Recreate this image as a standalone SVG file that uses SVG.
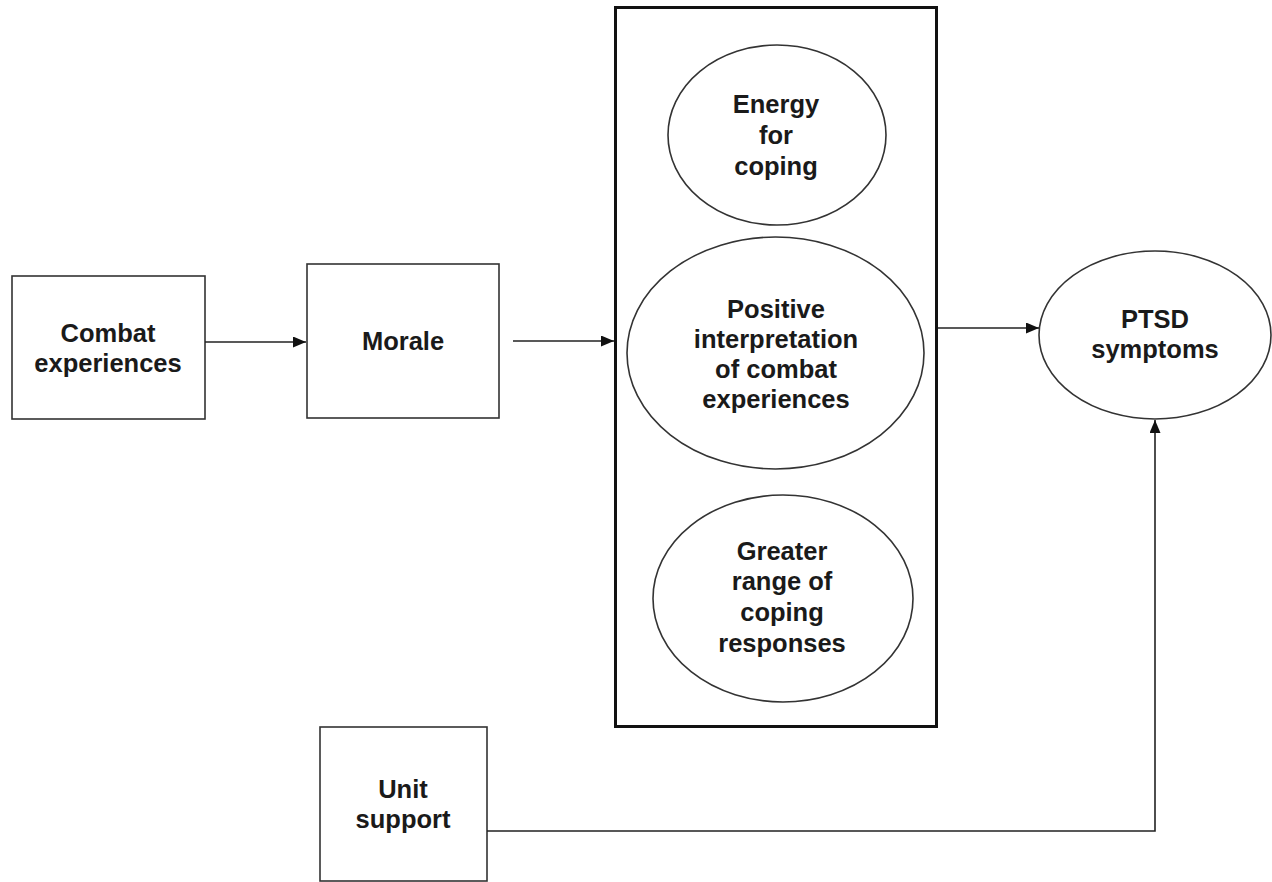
<svg xmlns="http://www.w3.org/2000/svg" width="1272" height="882" viewBox="0 0 1272 882">
<style>
.box{fill:#fff;stroke:#333;stroke-width:1.6}
.frame{fill:none;stroke:#111;stroke-width:3}
.ell{fill:#fff;stroke:#333;stroke-width:1.6}
.lbl{font-family:"Liberation Sans",Arial,sans-serif;font-weight:bold;font-size:25.5px;fill:#1a1a1a;text-anchor:middle}
.conn{fill:none;stroke:#222;stroke-width:1.6}
</style>
<defs>
<marker id="arr" viewBox="0 0 13 11" refX="13" refY="5.5" markerWidth="13" markerHeight="11" markerUnits="userSpaceOnUse" orient="auto">
<path d="M0,0 L13,5.5 L0,11 Z" fill="#111"/>
</marker>
</defs>
<rect width="1272" height="882" fill="#fff"/>
<g id="mediators">
<rect class="frame" x="615.5" y="7.5" width="321" height="719"/>
</g>
<g id="combat">
<rect class="box" x="12" y="276" width="193" height="143"/>
<text class="lbl" x="108" y="342">Combat</text>
<text class="lbl" x="108" y="372">experiences</text>
</g>
<g id="morale">
<rect class="box" x="307" y="264" width="192" height="154"/>
<text class="lbl" x="403" y="350">Morale</text>
</g>
<g id="energy">
<ellipse class="ell" cx="777" cy="135" rx="109" ry="90"/>
<text class="lbl" x="776" y="113">Energy</text>
<text class="lbl" x="776" y="144">for</text>
<text class="lbl" x="776" y="175">coping</text>
</g>
<g id="positive">
<ellipse class="ell" cx="775.5" cy="353" rx="148.5" ry="116"/>
<text class="lbl" x="776" y="318">Positive</text>
<text class="lbl" x="776" y="348">interpretation</text>
<text class="lbl" x="776" y="378">of combat</text>
<text class="lbl" x="776" y="408">experiences</text>
</g>
<g id="greater">
<ellipse class="ell" cx="783" cy="598.5" rx="130" ry="103.5"/>
<text class="lbl" x="782" y="560">Greater</text>
<text class="lbl" x="782" y="590">range of</text>
<text class="lbl" x="782" y="621">coping</text>
<text class="lbl" x="782" y="652">responses</text>
</g>
<g id="ptsd">
<ellipse class="ell" cx="1155" cy="335" rx="116" ry="84"/>
<text class="lbl" x="1155" y="328">PTSD</text>
<text class="lbl" x="1155" y="358">symptoms</text>
</g>
<g id="unit">
<rect class="box" x="320" y="727" width="167" height="154"/>
<text class="lbl" x="403" y="798">Unit</text>
<text class="lbl" x="403" y="828">support</text>
</g>
<g id="connectors">
<line class="conn" x1="205" y1="342" x2="306" y2="342" marker-end="url(#arr)"/>
<line class="conn" x1="513" y1="341" x2="614" y2="341" marker-end="url(#arr)"/>
<line class="conn" x1="938" y1="328" x2="1039" y2="328" marker-end="url(#arr)"/>
<polyline class="conn" points="487,831 1155,831 1155,420" marker-end="url(#arr)"/>
</g>
</svg>
